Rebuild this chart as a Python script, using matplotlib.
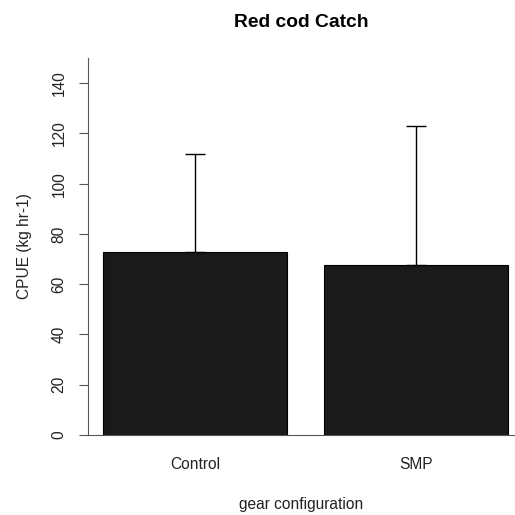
import numpy as np
import matplotlib
matplotlib.use("Agg")
import matplotlib.pyplot as plt

plt.rcParams['font.family'] = ['Liberation Sans', 'DejaVu Sans']

# data
groups = ['Control', 'SMP']
cpue = [72.8, 67.6]
upper = [111.9, 123.0]
yticks = [0, 20, 40, 60, 80, 100, 120, 140]

fig = plt.figure(figsize=(5.15, 5.15), dpi=100)
ax = fig.add_axes([88/515, 80/515, (515-88)/515, (435-58)/515])

xpos = np.array([0.7, 1.9])
ax.bar(xpos, cpue, width=1.0, color='#1a1a1a', edgecolor='black', linewidth=0.8)
# only the upper half of the error bars, like R arrows()
err = np.array(upper) - np.array(cpue)
ax.errorbar(xpos, cpue, yerr=[np.zeros(2), err], fmt='none', ecolor='black',
            elinewidth=1, capsize=7, capthick=1)

ax.set_xlim(0.119, 2.44)
ax.set_ylim(0, 150)
ax.spines['top'].set_visible(False)
ax.spines['right'].set_visible(False)
ax.spines['left'].set_color('#555555')
ax.spines['bottom'].set_color('#555555')

ax.set_yticks(yticks)
ax.set_yticklabels([str(v) for v in yticks], rotation=90, va='center', fontsize=11.2, color='#222222')
ax.tick_params(axis='y', length=6.5, pad=9, color='#555555')
ax.set_xticks(xpos)
ax.set_xticklabels(groups, fontsize=11.2, color='#222222')
ax.tick_params(axis='x', length=0, pad=16)

ax.set_ylabel('CPUE (kg hr-1)', fontsize=11.2, color='#222222', labelpad=14)
ax.set_xlabel('gear configuration', fontsize=11.2, color='#222222', labelpad=18)
ax.set_title('Red cod Catch', fontsize=13.9, fontweight='bold', pad=22)

fig.savefig('out.png', dpi=100)
